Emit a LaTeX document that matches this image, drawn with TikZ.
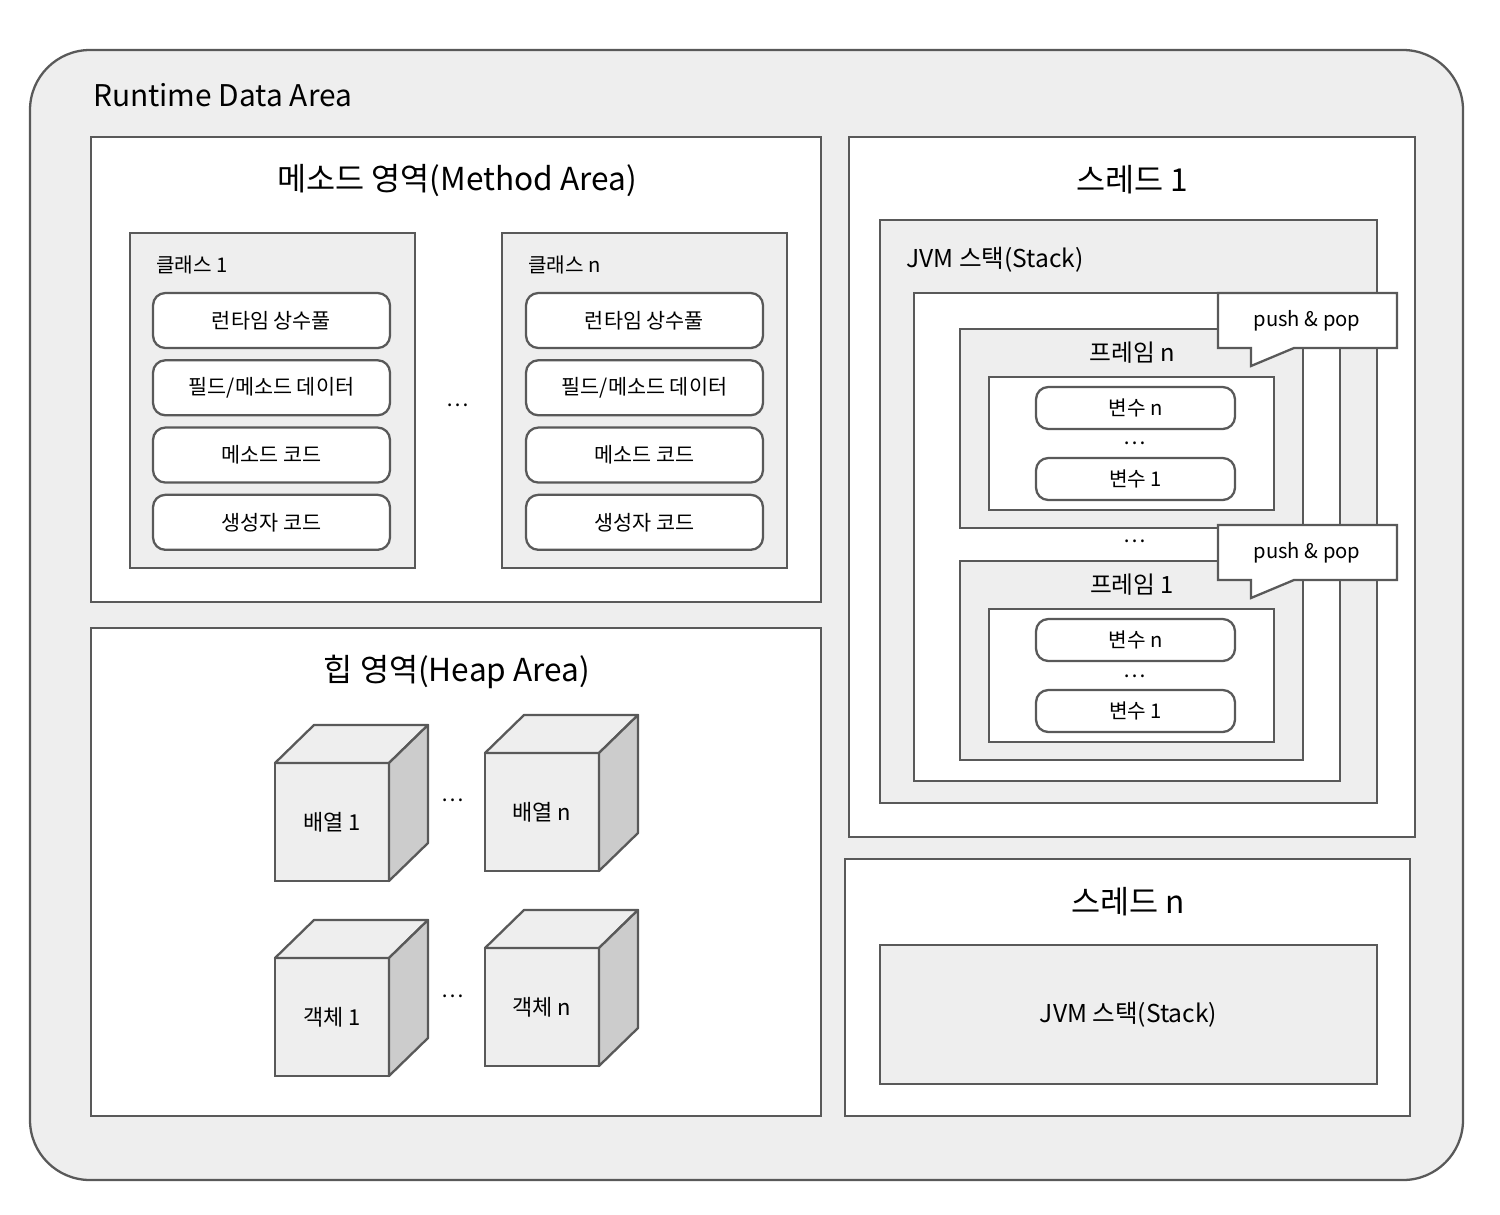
\documentclass[tikz,border=0pt]{standalone}
\usepackage{fontspec}
\setmainfont{Noto Sans CJK KR}
\usepackage{tikz}
\usetikzlibrary{positioning,calc,fit}
\definecolor{linegray}{RGB}{89,89,89}
\definecolor{panelgray}{RGB}{238,238,238}
\definecolor{sidegray}{RGB}{204,204,204}
\tikzset{
  outer/.style={draw=linegray, line width=1.3pt, fill=panelgray, rounded corners=1.2cm, inner sep=0pt},
  area/.style={draw=linegray, line width=1.3pt, fill=white, inner sep=0pt},
  graybox/.style={draw=linegray, line width=1.3pt, fill=panelgray, inner sep=0pt},
  item/.style={draw=linegray, line width=1.3pt, fill=white, rounded corners=7pt, minimum width=4.74cm, minimum height=1.1cm, font=\fontsize{11.8}{14}\selectfont},
  var/.style={draw=linegray, line width=1.3pt, fill=white, rounded corners=7pt, minimum width=3.98cm, minimum height=0.84cm, font=\fontsize{11.5}{13}\selectfont},
  bigtitle/.style={font=\fontsize{17}{20}\selectfont},
  title/.style={font=\fontsize{18}{21}\selectfont},
  midlab/.style={font=\fontsize{14}{16}\selectfont},
  framelab/.style={font=\fontsize{13.5}{16}\selectfont},
  smalllab/.style={font=\fontsize{11.5}{13}\selectfont},
  dots/.style={font=\fontsize{12}{14}\selectfont, inner sep=0pt},
  cubefront/.style={draw=linegray, line width=1.3pt, fill=panelgray, outer sep=0pt, minimum width=2.28cm, minimum height=2.36cm, font=\fontsize{12.5}{14}\selectfont},
  cubetop/.style={draw=linegray, line width=1.3pt, fill=panelgray, line join=round},
  cubeside/.style={draw=linegray, line width=1.3pt, fill=sidegray, line join=round},
  callout/.style={draw=linegray, line width=1.3pt, fill=white},
}
% cube: name, x, y (front top left), label
\newcommand{\cube}[4]{%
  \node[cubefront, anchor=north west] (#1) at (#2,#3) {#4};
  \draw[cubetop] (#1.north west) -- ++(39,-38) -- ++(114,0) -- (#1.north east) -- cycle;
  \draw[cubeside] (#1.north east) -- ++(39,-38) -- ++(0,118) -- (#1.south east) -- cycle;
}
% push & pop callout: name, x, y (top left)
\newcommand{\pushpop}[3]{%
  \coordinate (#1) at (#2,#3);
  \draw[callout] (#1) -- ++(179,0) -- ++(0,55) -- ++(-103,0) -- ++(-43,18) -- ++(0,-18) -- ++(-33,0) -- cycle;
  \node[smalllab, font=\fontsize{11.5}{13}\selectfont] (#1text) at ($(#1)+(89,28)$) {push \& pop};
}

\begin{document}
\begin{tikzpicture}[x=0.02cm, y=-0.02cm]
\useasboundingbox (0,0) rectangle (1500,1214);
% runtime data area
\node[outer, fit={(30,50) (1463,1180)}] (rda) {};
\node[bigtitle, anchor=west] (rdatitle) at (87,95) {Runtime Data Area};

% method area
\node[area, fit={(91,137) (821,602)}] (method) {};
\node[title] (methodtitle) at (457,181) {메소드 영역(Method Area)};
\node[graybox, fit={(130,233) (415,568)}] (class1) {};
\node[smalllab, anchor=west] (class1title) at (150,265) {클래스 1};
\node[item] (c1a) at (271.5,320.5) {런타임 상수풀};
\node[item, below=0.2cm of c1a] (c1b) {필드/메소드 데이터};
\node[item, below=0.2cm of c1b] (c1c) {메소드 코드};
\node[item, below=0.2cm of c1c] (c1d) {생성자 코드};
\node[dots] (classdots) at (458,405) {\ldots};
\node[graybox, fit={(502,233) (787,568)}] (classn) {};
\node[smalllab, anchor=west] (classntitle) at (522,265) {클래스 n};
\node[item] (cna) at (644.5,320.5) {런타임 상수풀};
\node[item, below=0.2cm of cna] (cnb) {필드/메소드 데이터};
\node[item, below=0.2cm of cnb] (cnc) {메소드 코드};
\node[item, below=0.2cm of cnc] (cnd) {생성자 코드};

% heap area
\node[area, fit={(91,628) (821,1116)}] (heap) {};
\node[title] (heaptitle) at (457,672) {힙 영역(Heap Area)};
\cube{arr1}{275}{763}{배열 1}
\cube{arrn}{485}{753}{배열 n}
\cube{obj1}{275}{958}{객체 1}
\cube{objn}{485}{948}{객체 n}
\node[dots] (arrdots) at (453,800) {\ldots};
\node[dots] (objdots) at (453,996) {\ldots};

% thread 1
\node[area, fit={(849,137) (1415,837)}] (thread1) {};
\node[title] (thread1title) at (1132,180) {스레드 1};
\node[graybox, fit={(880,220) (1377,803)}] (stack1) {};
\node[midlab, anchor=west] (stack1title) at (900,260) {JVM 스택(Stack)};
\node[area, fit={(914,293) (1340,781)}] (frames) {};
\node[graybox, fit={(960,329) (1303,528)}] (framen) {};
\node[framelab] (framentitle) at (1132,353) {프레임 n};
\node[area, fit={(989,377) (1274,510)}] (localsn) {};
\node[var] (fnvarn) at (1135.5,408) {변수 n};
\node[dots] (fndots) at (1135,443) {\ldots};
\node[var] (fnvar1) at (1135.5,479) {변수 1};
\node[dots] (framedots) at (1135,541) {\ldots};
\node[graybox, fit={(960,561) (1303,760)}] (frame1) {};
\node[framelab] (frame1title) at (1132,585) {프레임 1};
\node[area, fit={(989,609) (1274,742)}] (locals1) {};
\node[var] (f1varn) at (1135.5,640) {변수 n};
\node[dots] (f1dots) at (1135,676) {\ldots};
\node[var] (f1var1) at (1135.5,711) {변수 1};
\pushpop{ppn}{1218}{293}
\pushpop{pp1}{1218}{525}

% thread n
\node[area, fit={(845,859) (1410,1116)}] (threadn) {};
\node[title] (threadntitle) at (1128,902) {스레드 n};
\node[graybox, fit={(880,945) (1377,1084)}] (stackn) {};
\node[midlab] (stackntitle) at (stackn) {JVM 스택(Stack)};
\end{tikzpicture}
\end{document}
